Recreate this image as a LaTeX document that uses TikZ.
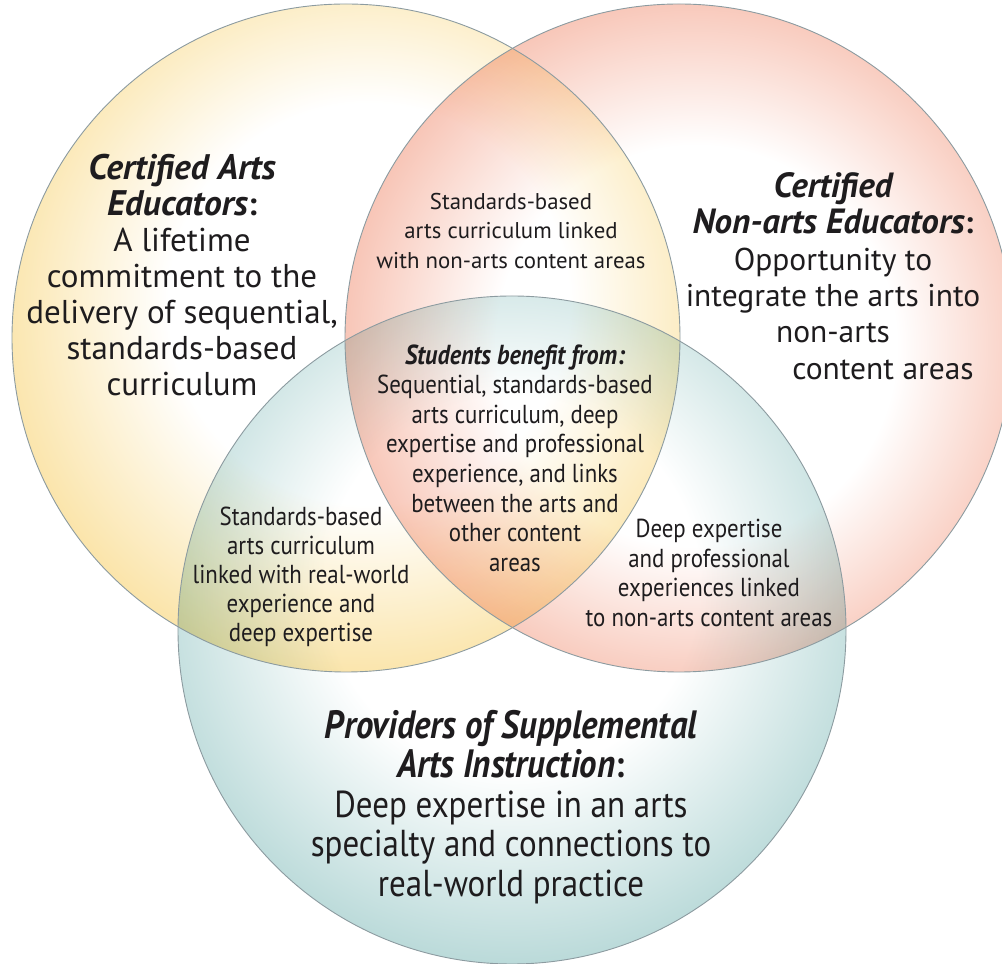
\documentclass[tikz,border=0pt]{standalone}
\usepackage{fontspec}
\setmainfont{PT Sans}
\newfontfamily\cf[FakeStretch=0.88]{PT Sans}
\definecolor{yel}{RGB}{249,219,140}
\definecolor{sal}{RGB}{244,168,146}
\definecolor{tea}{RGB}{166,207,206}
\definecolor{rim}{RGB}{140,155,160}
\definecolor{ink}{RGB}{30,28,30}
\pgfdeclareradialshading{yshade}{\pgfpoint{2bp}{3bp}}{color(0bp)=(white); color(15bp)=(white); color(32bp)=(yel); color(100bp)=(yel)}
\pgfdeclareradialshading{rshade}{\pgfpoint{1.5bp}{-0.7bp}}{color(0bp)=(white); color(15bp)=(white); color(32bp)=(sal); color(100bp)=(sal)}
\pgfdeclareradialshading{tshade}{\pgfpoint{0bp}{4bp}}{color(0bp)=(white); color(14bp)=(white); color(32bp)=(tea); color(100bp)=(tea)}
\tikzset{
  txt/.style={align=center, inner sep=0pt, text=ink},
  rimline/.style={draw=rim, line width=0.9pt}
}
\newcommand\hd[2]{{\fontsize{#1}{36}\selectfont\bfseries\itshape #2}}
\begin{document}
\begin{tikzpicture}[x=1pt,y=1pt]
\useasboundingbox (0,0) rectangle (1002,964);
\clip (0,0) rectangle (1002,964);
\coordinate (cy) at (346,626);
\coordinate (cr) at (679,626);
\coordinate (ct) at (512,334);
\begin{scope}[blend group=multiply]
  \shade[shading=yshade] (cy) circle[radius=334];
  \shade[shading=rshade] (cr) circle[radius=334];
  \shade[shading=tshade] (ct) circle[radius=334];
\end{scope}
\draw[rimline] (cy) circle[radius=334];
\draw[rimline] (cr) circle[radius=334];
\draw[rimline] (ct) circle[radius=334];

\node[txt, font=\fontsize{33}{36}\selectfont] (cae) at (182,689)
  {\hd{35.5}{Certified Arts}\\\hd{35.5}{Educators}\textbf{:}\\A lifetime\\commitment to the\\delivery of sequential,\\standards-based\\curriculum};
\node[txt, font=\fontsize{31.5}{36.3}\selectfont] (cna) at (833,688)
  {\hd{35}{Certified}\\\hd{35}{Non-arts Educators}\textbf{:}\\Opportunity to\\integrate the arts into\\non-arts\\\hspace*{100pt}content areas};
\node[txt, font=\fontsize{22.8}{29.5}\selectfont] (yr) at (511,733)
  {Standards-based\\arts curriculum linked\\with non-arts content areas};
\node[txt, font=\cf\fontsize{26}{29.6}\selectfont] (all) at (515,506)
  {{\fontsize{27.5}{29.6}\selectfont\bfseries\itshape Students benefit from:}\\Sequential, standards-based\\arts curriculum, deep\\expertise and professional\\experience, and links\\between the arts and\\other content\\areas};
\node[txt, font=\cf\fontsize{26}{29}\selectfont] (yt) at (301,387)
  {Standards-based\\arts curriculum\\linked with real-world\\experience and\\deep expertise};
\node[txt, font=\cf\fontsize{26}{29.6}\selectfont] (rt) at (709,391)
  {Deep expertise\\and professional\\experiences linked\\to non-arts content areas};
\node[txt, font=\cf\fontsize{37.5}{39.5}\selectfont] (psa) at (511,157)
  {{\fontsize{39.5}{39.5}\selectfont\bfseries\itshape Providers of Supplemental}\\{\fontsize{39.5}{39.5}\selectfont\bfseries\itshape Arts Instruction}\textbf{:}\\Deep expertise in an arts\\specialty and connections to\\real-world practice};
\end{tikzpicture}
\end{document}
